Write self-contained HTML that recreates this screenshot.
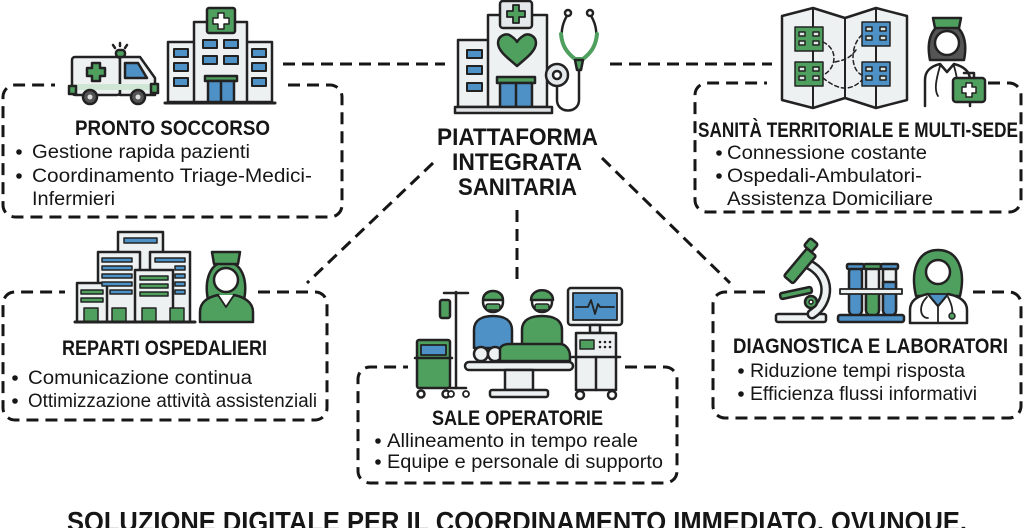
<!DOCTYPE html>
<html><head><meta charset="utf-8"><style>
html,body{margin:0;padding:0;background:#fff;}
svg{display:block;}
text{font-family:"Liberation Sans",sans-serif;fill:#161616;}
.t{font-weight:bold;font-size:21px;}
.b{font-size:19px;}
.c{font-weight:bold;font-size:24px;}
</style></head><body>
<svg width="1024" height="528" viewBox="0 0 1024 528" xmlns="http://www.w3.org/2000/svg">
<rect width="1024" height="528" fill="#fff"/>
<!-- connectors -->
<g stroke="#161616" stroke-width="3" stroke-dasharray="12 7" fill="none">
<line x1="283" y1="64" x2="445" y2="64"/>
<line x1="610" y1="64" x2="772" y2="64"/>
<line x1="433" y1="163" x2="307" y2="283"/>
<line x1="602" y1="158" x2="730" y2="283"/>
<line x1="517" y1="210" x2="517" y2="285"/>
<!-- boxes -->
<path d="M288 85 H330 A12 12 0 0 1 342 97 V205 A12 12 0 0 1 330 217 H15 A12 12 0 0 1 3 205 V97 A12 12 0 0 1 15 85 H55"/>
<path d="M988 83 H1009 A12 12 0 0 1 1021 95 V200 A12 12 0 0 1 1009 212 H707 A12 12 0 0 1 695 200 V95 A12 12 0 0 1 707 83 H767"/>
<path d="M258 292 H315 A12 12 0 0 1 327 304 V408 A12 12 0 0 1 315 420 H15 A12 12 0 0 1 3 408 V304 A12 12 0 0 1 15 292 H65"/>
<path d="M625 367 H665 A12 12 0 0 1 677 379 V471 A12 12 0 0 1 665 483 H370 A12 12 0 0 1 358 471 V379 A12 12 0 0 1 370 367 H408"/>
<path d="M973 292 H1009 A12 12 0 0 1 1021 304 V406 A12 12 0 0 1 1009 418 H725 A12 12 0 0 1 713 406 V304 A12 12 0 0 1 725 292 H765"/>
</g>

<g stroke="#222" stroke-width="2.5" stroke-linejoin="round" stroke-linecap="round">
<!-- ambulance -->
<rect x="72" y="57" width="48" height="38" rx="3" fill="#eef1f2"/>
<path d="M120 57 H140 L155 78 V95 H120 Z" fill="#eef1f2"/>
<path d="M125 63 H138 L147 78 H125 Z" fill="#4e91c7"/>
<rect x="74" y="84" width="80" height="6" fill="#cfe6d4" stroke="none"/>
<rect x="69" y="86" width="7" height="8" fill="#4f9f5f"/>
<rect x="151" y="84" width="7" height="9" fill="#4f9f5f"/>
<path d="M92 63 H100 V68 H105 V76 H100 V81 H92 V76 H87 V68 H92 Z" fill="#4f9f5f"/>
<rect x="116" y="50" width="9" height="7" rx="3" fill="#4f9f5f"/>
<path d="M120 43 V46 M113 45 L115 48 M127 45 L125 48" fill="none"/>
<circle cx="90" cy="97" r="7" fill="#555"/><circle cx="90" cy="97" r="2.5" fill="#ddd" stroke="none"/>
<circle cx="138" cy="97" r="7" fill="#555"/><circle cx="138" cy="97" r="2.5" fill="#ddd" stroke="none"/>
<!-- hospital -->
<rect x="168" y="42" width="27" height="60" fill="#eef1f2"/>
<rect x="245" y="42" width="27" height="60" fill="#eef1f2"/>
<rect x="194" y="22" width="53" height="80" fill="#eef1f2"/>
<rect x="207" y="8" width="28" height="25" rx="2" fill="#4f9f5f"/>
<path d="M218 13 H224 V18 H229 V24 H224 V29 H218 V24 H213 V18 H218 Z" fill="#fff" stroke-width="1.5"/>
<g fill="#4e91c7" stroke-width="2">
<rect x="174" y="49" width="14" height="8"/><rect x="174" y="63" width="14" height="8"/><rect x="174" y="78" width="14" height="8"/>
<rect x="252" y="49" width="14" height="8"/><rect x="252" y="63" width="14" height="8"/><rect x="252" y="78" width="14" height="8"/>
<rect x="203" y="40" width="14" height="8"/><rect x="224" y="40" width="14" height="8"/>
<rect x="203" y="56" width="14" height="8"/><rect x="224" y="56" width="14" height="8"/>
</g>
<rect x="205" y="76" width="32" height="5" fill="#4f9f5f"/>
<rect x="208" y="81" width="26" height="21" fill="#4e91c7"/><line x1="221" y1="81" x2="221" y2="102"/>
<line x1="165" y1="103" x2="275" y2="103" stroke-width="3"/>

<!-- center hospital -->
<rect x="458" y="40" width="32" height="67" fill="#eef1f2"/>
<rect x="488" y="15" width="59" height="92" fill="#eef1f2"/>
<rect x="500" y="1" width="32" height="27" rx="3" fill="#e4e8ea"/>
<path d="M513 5 H519 V11 H525 V17 H519 V23 H513 V17 H507 V11 H513 Z" fill="#4f9f5f" stroke-width="1.8"/>
<path d="M517 66 C505 56 498 50 498 43 C498 36 506 32 511 36 C514 38 516 40 517 42 C518 40 520 38 523 36 C528 32 536 36 536 43 C536 50 529 56 517 66 Z" fill="#4f9f5f"/>
<g fill="#4e91c7" stroke-width="2">
<rect x="467" y="50" width="15" height="8"/><rect x="467" y="66" width="15" height="8"/><rect x="467" y="83" width="15" height="8"/>
</g>
<rect x="497" y="77" width="38" height="6" fill="#4f9f5f"/>
<rect x="500" y="83" width="32" height="24" fill="#4e91c7"/><line x1="516" y1="83" x2="516" y2="107"/>
<rect x="455" y="107" width="97" height="6" fill="#dfe3e5"/>
<path d="M568 14 C558 30 560 46 574 58 M590 14 C600 30 598 46 584 58" fill="none"/>
<path d="M561 34 C562 45 566 52 575 59 L583 59 C592 52 596 45 597 34" fill="none" stroke="#4f9f5f" stroke-width="4"/>
<path d="M575 60 H583 L581 70 H577 Z" fill="#4f9f5f"/>
<path d="M579 70 V100 C579 114 557 114 557 100 V86" fill="none"/>
<circle cx="568" cy="13" r="3" fill="#fff"/><circle cx="590" cy="13" r="3" fill="#fff"/>
<circle cx="557" cy="75" r="11" fill="#e4e8ea"/><circle cx="557" cy="75" r="4" fill="#fff"/>

<!-- map -->
<path d="M782 16 L813 8 L845 18 L876 8 L907 16 V100 L876 108 L845 98 L813 108 L782 100 Z" fill="#eef1f2"/>
<path d="M813 8 V108 M845 18 V98 M876 8 V108" fill="none" stroke-width="2"/>
<g stroke-width="1.5">
<rect x="795" y="27" width="28" height="24" fill="#4f9f5f"/><rect x="795" y="62" width="28" height="24" fill="#4f9f5f"/>
<rect x="862" y="22" width="28" height="24" fill="#4e91c7"/><rect x="862" y="62" width="28" height="24" fill="#4e91c7"/>
<path d="M799 32 h6 v4 h-6z M813 32 h6 v4 h-6z M799 41 h6 v4 h-6z M813 41 h6 v4 h-6z M799 67 h6 v4 h-6z M813 67 h6 v4 h-6z M799 76 h6 v4 h-6z M813 76 h6 v4 h-6z M866 27 h6 v4 h-6z M880 27 h6 v4 h-6z M866 36 h6 v4 h-6z M880 36 h6 v4 h-6z M866 67 h6 v4 h-6z M880 67 h6 v4 h-6z M866 76 h6 v4 h-6z M880 76 h6 v4 h-6z" fill="#dfe9e3"/>
</g>
<path d="M823 42 C840 50 835 70 823 75 M862 35 C850 45 850 70 862 75 M835 62 C845 60 850 58 856 50 M823 78 C838 90 850 92 862 80" fill="none" stroke-width="1.5" stroke-dasharray="4 3"/>
<!-- nurse right -->
<path d="M930 60 C926 40 932 24 947 24 C962 24 968 40 964 60 Z" fill="#555"/>
<path d="M933 18 H961 L959 28 H935 Z" fill="#4f9f5f"/>
<circle cx="947" cy="43" r="12" fill="#fff"/>
<path d="M925 106 V80 C925 70 932 66 940 64 L947 72 L954 64 C962 66 970 70 970 80 V106" fill="#fff"/>
<path d="M940 66 C936 80 934 90 938 96 M954 66 C958 80 958 86 956 90" fill="none" stroke-width="1.8"/>
<circle cx="956" cy="92" r="2.5" fill="#fff" stroke-width="1.5"/>
<rect x="953" y="78" width="32" height="24" rx="3" fill="#4f9f5f"/>
<path d="M964 73 H974 V78" fill="none"/>
<path d="M966 83 H972 V87 H976 V93 H972 V97 H966 V93 H962 V87 H966 Z" fill="#fff" stroke-width="1.5"/>

<!-- reparti buildings -->
<rect x="118" y="232" width="45" height="90" fill="#eef1f2"/>
<rect x="98" y="252" width="42" height="70" fill="#eef1f2"/>
<rect x="150" y="252" width="40" height="70" fill="#eef1f2"/>
<rect x="135" y="270" width="38" height="52" fill="#eef1f2"/>
<rect x="77" y="283" width="30" height="39" fill="#eef1f2"/>
<g stroke-width="1.5">
<rect x="124" y="238" width="33" height="5" fill="#4e91c7"/>
<rect x="102" y="258" width="30" height="4" fill="#4e91c7"/><rect x="102" y="266" width="30" height="4" fill="#4e91c7"/><rect x="102" y="274" width="30" height="4" fill="#4e91c7"/><rect x="102" y="282" width="30" height="4" fill="#4e91c7"/><rect x="110" y="290" width="22" height="4" fill="#4e91c7"/>
<rect x="155" y="258" width="30" height="4" fill="#4e91c7"/><rect x="175" y="266" width="10" height="4" fill="#4e91c7"/><rect x="175" y="274" width="10" height="4" fill="#4e91c7"/><rect x="175" y="282" width="10" height="4" fill="#4e91c7"/><rect x="175" y="290" width="10" height="4" fill="#4e91c7"/>
<rect x="140" y="276" width="28" height="4" fill="#4f9f5f"/><rect x="140" y="284" width="28" height="4" fill="#4f9f5f"/><rect x="140" y="292" width="28" height="4" fill="#4f9f5f"/>
<rect x="81" y="290" width="22" height="4" fill="#4f9f5f"/><rect x="81" y="298" width="22" height="4" fill="#4f9f5f"/>
<rect x="84" y="308" width="14" height="14" fill="#4f9f5f"/><rect x="112" y="308" width="14" height="14" fill="#4f9f5f"/><rect x="142" y="308" width="14" height="14" fill="#4f9f5f"/><rect x="170" y="308" width="14" height="14" fill="#4f9f5f"/>
</g>
<line x1="75" y1="322" x2="195" y2="322" stroke-width="3"/>
<!-- nurse green -->
<path d="M208 300 C204 280 210 262 226 262 C242 262 248 280 244 300 Z" fill="#4f9f5f"/>
<path d="M212 252 H240 L238 264 H214 Z" fill="#4f9f5f"/>
<circle cx="226" cy="280" r="12" fill="#fff"/>
<path d="M200 322 V312 C200 302 208 297 218 295 L226 304 L234 295 C244 297 253 302 253 312 V322 Z" fill="#4f9f5f"/>
<path d="M218 295 L226 307 L234 295" fill="#fff" stroke-width="1.8"/>

<!-- sale operatorie -->
<rect x="417" y="340" width="33" height="48" rx="2" fill="#4f9f5f"/>
<rect x="421" y="345" width="25" height="10" fill="#4e91c7" stroke-width="1.8"/>
<line x1="415" y1="358" x2="452" y2="358"/>
<circle cx="421" cy="394" r="3.5" fill="#fff"/><circle cx="446" cy="394" r="3.5" fill="#fff"/>
<line x1="456" y1="292" x2="456" y2="388"/>
<path d="M444 293 H468 M450 388 H466" fill="none"/>
<circle cx="451" cy="394" r="3" fill="#fff" stroke-width="1.8"/><circle cx="466" cy="394" r="3" fill="#fff" stroke-width="1.8"/>
<rect x="440" y="300" width="10" height="18" rx="2" fill="#4f9f5f"/>
<!-- surgeons -->
<path d="M474 348 V330 C474 320 482 316 493 316 C504 316 512 320 512 330 V348 Z" fill="#4e91c7"/>
<circle cx="493" cy="302" r="10" fill="#fff"/>
<path d="M483 300 C483 288 503 288 503 300 Z" fill="#4f9f5f"/>
<rect x="486" y="304" width="14" height="6" rx="2" fill="#4f9f5f" stroke-width="1.5"/>
<path d="M522 348 V330 C522 320 530 316 542 316 C554 316 562 320 562 330 V348 Z" fill="#4f9f5f"/>
<circle cx="542" cy="302" r="10" fill="#fff"/>
<path d="M531 300 C531 287 553 287 553 300 Z" fill="#4f9f5f"/>
<rect x="535" y="304" width="14" height="6" rx="2" fill="#4f9f5f" stroke-width="1.5"/>
<!-- patient & table -->
<circle cx="481" cy="354" r="7" fill="#eef1f2"/><circle cx="495" cy="354" r="7" fill="#eef1f2"/>
<path d="M500 361 V350 C500 346 504 344 510 344 L560 344 C566 344 570 350 570 356 V361 Z" fill="#4f9f5f"/>
<rect x="465" y="362" width="108" height="8" rx="4" fill="#eef1f2"/>
<rect x="505" y="370" width="28" height="20" fill="#eef1f2"/>
<rect x="490" y="390" width="58" height="7" rx="2" fill="#eef1f2"/>
<!-- monitor -->
<rect x="568" y="288" width="54" height="37" rx="3" fill="#eef1f2"/>
<rect x="573" y="293" width="44" height="27" fill="#4e91c7" stroke-width="1.8"/>
<path d="M576 307 H588 L591 300 L595 314 L598 304 L600 307 H614" fill="none" stroke-width="1.8"/>
<rect x="590" y="325" width="10" height="8" fill="#eef1f2"/>
<rect x="576" y="333" width="40" height="57" fill="#eef1f2"/>
<rect x="580" y="340" width="14" height="9" fill="#4f9f5f" stroke-width="1.5"/>
<g fill="#222" stroke="none"><circle cx="600" cy="342" r="1.3"/><circle cx="605" cy="342" r="1.3"/><circle cx="610" cy="342" r="1.3"/><circle cx="600" cy="347" r="1.3"/><circle cx="605" cy="347" r="1.3"/><circle cx="610" cy="347" r="1.3"/></g>
<line x1="572" y1="357" x2="620" y2="357"/><line x1="596" y1="357" x2="596" y2="390"/>
<circle cx="580" cy="395" r="4" fill="#fff"/><circle cx="612" cy="395" r="4" fill="#fff"/>

<!-- microscope -->
<rect x="776" y="314" width="50" height="8" rx="2" fill="#eef1f2"/>
<path d="M812 314 C830 302 832 276 808 264" fill="none" stroke-width="11"/>
<path d="M812 314 C830 302 832 276 808 264" fill="none" stroke="#eef1f2" stroke-width="6"/>
<rect x="794" y="248" width="12" height="36" rx="2" fill="#4f9f5f" transform="rotate(40 800 266)"/>
<rect x="806" y="240" width="10" height="10" rx="2" fill="#4f9f5f" transform="rotate(40 811 245)"/>
<rect x="780" y="290" width="32" height="6" rx="2" fill="#4f9f5f" transform="rotate(-12 796 293)"/>
<circle cx="811" cy="302" r="6" fill="#4f9f5f"/><circle cx="811" cy="302" r="2" fill="#fff" stroke-width="1.5"/>
<!-- tubes -->
<rect x="849" y="266" width="13" height="50" rx="6" fill="#4e91c7"/>
<path d="M866 266 H879 V310 C879 318 866 318 866 310 Z" fill="#eef1f2"/>
<path d="M866 290 H879 V310 C879 318 866 318 866 310 Z" fill="#4f9f5f"/>
<path d="M883 266 H896 V310 C896 318 883 318 883 310 Z" fill="#eef1f2"/>
<path d="M883 282 H896 V310 C896 318 883 318 883 310 Z" fill="#4e91c7"/>
<rect x="847" y="264" width="17" height="5" rx="1.5" fill="#4e91c7"/><rect x="864" y="264" width="17" height="5" rx="1.5" fill="#4f9f5f"/><rect x="881" y="264" width="17" height="5" rx="1.5" fill="#4e91c7"/>
<rect x="840" y="289" width="62" height="5" fill="#eef1f2" stroke-width="1.8"/>
<rect x="838" y="315" width="66" height="7" rx="2" fill="#4e91c7"/>
<!-- doctor -->
<path d="M916 296 C910 270 918 250 938 250 C958 250 966 270 960 296 Z" fill="#4f9f5f"/>
<circle cx="938" cy="272" r="12" fill="#fff"/>
<path d="M910 323 V310 C910 300 918 296 928 294 L938 306 L948 294 C958 296 967 300 967 310 V323 Z" fill="#fff"/>
<path d="M928 294 L938 306 L948 294 Z" fill="#4e91c7" stroke-width="1.8"/>
<path d="M927 297 C918 306 920 318 928 318 M948 297 C952 305 953 310 952 314" fill="none" stroke-width="1.8"/>
<circle cx="952" cy="316" r="3" fill="#4f9f5f" stroke-width="1.5"/>
<line x1="938" y1="306" x2="938" y2="323" stroke-width="1.8"/>
</g>

<!-- texts -->
<text class="t" x="75" y="135" textLength="195" lengthAdjust="spacingAndGlyphs">PRONTO SOCCORSO</text>
<g fill="#161616"><circle cx="19" cy="152" r="2.8"/><circle cx="19" cy="176" r="2.8"/>
<circle cx="719" cy="153" r="2.8"/><circle cx="719" cy="176" r="2.8"/>
<circle cx="15" cy="378" r="2.8"/><circle cx="15" cy="401" r="2.8"/>
<circle cx="378" cy="441" r="2.8"/><circle cx="378" cy="462" r="2.8"/>
<circle cx="741" cy="371" r="2.8"/><circle cx="741" cy="394" r="2.8"/></g>
<text class="b" x="32" y="158" textLength="218" lengthAdjust="spacingAndGlyphs">Gestione rapida pazienti</text>
<text class="b" x="32" y="182" textLength="280" lengthAdjust="spacingAndGlyphs">Coordinamento Triage-Medici-</text>
<text class="b" x="32" y="205" textLength="83" lengthAdjust="spacingAndGlyphs">Infermieri</text>

<text class="c" x="437" y="145" textLength="161" lengthAdjust="spacingAndGlyphs">PIATTAFORMA</text>
<text class="c" x="452" y="170" textLength="130" lengthAdjust="spacingAndGlyphs">INTEGRATA</text>
<text class="c" x="458" y="195" textLength="119" lengthAdjust="spacingAndGlyphs">SANITARIA</text>

<text class="t" x="698" y="137" textLength="320" lengthAdjust="spacingAndGlyphs">SANITÀ TERRITORIALE E MULTI-SEDE</text>
<text class="b" x="727" y="159" textLength="200" lengthAdjust="spacingAndGlyphs">Connessione costante</text>
<text class="b" x="727" y="182" textLength="195" lengthAdjust="spacingAndGlyphs">Ospedali-Ambulatori-</text>
<text class="b" x="727" y="205" textLength="206" lengthAdjust="spacingAndGlyphs">Assistenza Domiciliare</text>

<text class="t" x="62" y="355" textLength="205" lengthAdjust="spacingAndGlyphs">REPARTI OSPEDALIERI</text>
<text class="b" x="28" y="384" textLength="224" lengthAdjust="spacingAndGlyphs">Comunicazione continua</text>
<text class="b" x="28" y="407" textLength="289" lengthAdjust="spacingAndGlyphs">Ottimizzazione attività assistenziali</text>

<text class="t" x="432" y="425" textLength="171" lengthAdjust="spacingAndGlyphs">SALE OPERATORIE</text>
<text class="b" x="387" y="447" textLength="251" lengthAdjust="spacingAndGlyphs">Allineamento in tempo reale</text>
<text class="b" x="387" y="468" textLength="276" lengthAdjust="spacingAndGlyphs">Equipe e personale di supporto</text>

<text class="t" x="733" y="353" textLength="275" lengthAdjust="spacingAndGlyphs">DIAGNOSTICA E LABORATORI</text>
<text class="b" x="750" y="377" textLength="215" lengthAdjust="spacingAndGlyphs">Riduzione tempi risposta</text>
<text class="b" x="750" y="400" textLength="227" lengthAdjust="spacingAndGlyphs">Efficienza flussi informativi</text>

<text x="67" y="531" font-size="28" font-weight="bold" textLength="900" lengthAdjust="spacingAndGlyphs">SOLUZIONE DIGITALE PER IL COORDINAMENTO IMMEDIATO, OVUNQUE.</text>
</svg>
</body></html>
